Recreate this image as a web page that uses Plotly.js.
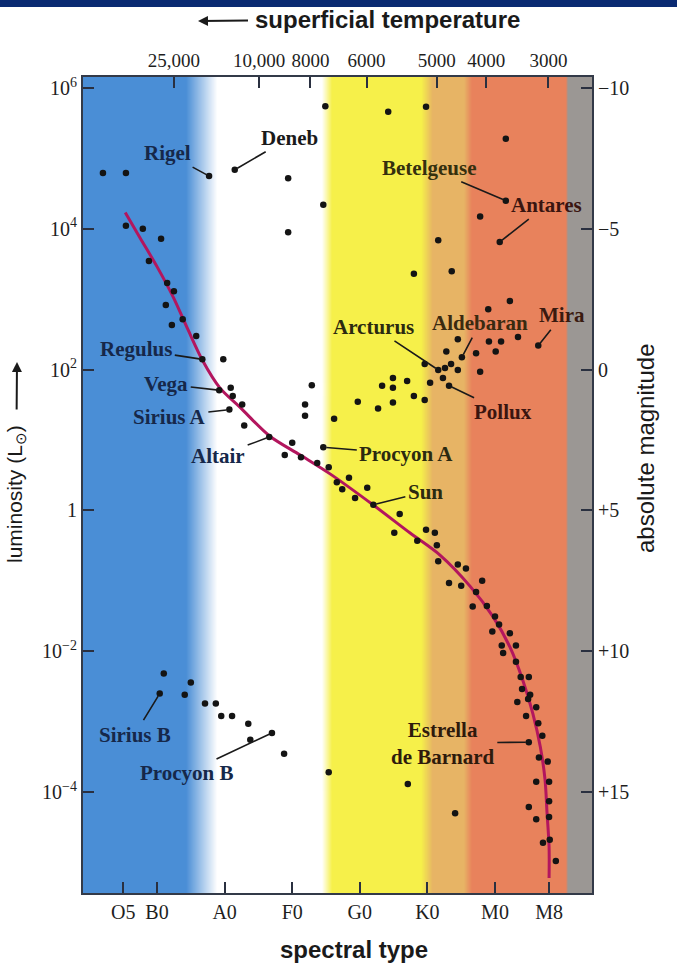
<!DOCTYPE html>
<html><head><meta charset="utf-8">
<script src="https://cdn.plot.ly/plotly-3.0.1.min.js"></script>
<style>html,body{margin:0;padding:0;background:#fff;}#chart{width:677px;height:969px;}</style>
</head><body><div id="chart"></div>
<script>
// ---------- DATA (spectral index: O0=0, B0=10, A0=20 ... M0=60; luminosity in solar units) ----------
const spectralTicks = [5, 10, 20, 30, 40, 50, 60, 68];
const spectralLabels = ["O5", "B0", "A0", "F0", "G0", "K0", "M0", "M8"];

const temperatures = [25000, 10000, 8000, 6000, 5000, 4000, 3000];
const temperaturePos = [12.5, 25.1, 32.7, 41.0, 51.4, 58.7, 67.9];

const lumTicks = [1e-4, 1e-2, 1, 1e2, 1e4, 1e6];
const lumLabels = ["10<sup>−4</sup>", "10<sup>−2</sup>", "1", "10<sup>2</sup>", "10<sup>4</sup>", "10<sup>6</sup>"];

const magTicks = [-10, -5, 0, 5, 10, 15];
const magLabels = ["−10", "−5", "0", "+5", "+10", "+15"];

// main-sequence curve
const msCurveX = [5.3, 7.5, 10.0, 12.4, 14.6, 16.7, 19.3, 22.3, 26.6, 31.2, 35.6, 42.0, 47.4, 51.9, 56.3, 59.7, 62.2, 64.1, 65.6, 66.7, 67.4, 67.7, 68.0, 68.0];
const msCurveL = [1.7e4, 7.4e3, 2.9e3, 1070, 365, 137, 55, 29, 11.5, 6.1, 3.3, 1.19, 0.48, 0.23, 0.084, 0.031, 0.0115, 0.0039, 0.0013, 4.4e-4, 1.5e-4, 5.0e-5, 1.66e-5, 6.0e-6];

// supergiants
const superX = [2.0, 5.4, 29.4, 34.6, 29.4, 34.9, 44.2, 49.8, 61.6, 57.8, 51.6, 48.0, 53.6];
const superL = [6.2e4, 6.2e4, 5.2e4, 2.2e4, 8.9e3, 5.5e5, 4.6e5, 5.4e5, 1.9e5, 1.5e4, 6.9e3, 2.3e3, 2.5e3];

// main-sequence stars
const mainX = [5.4, 7.9, 10.6, 8.8, 11.5, 12.5, 11.3, 13.8, 12.2, 15.8, 19.8, 20.9, 21.2, 22.6, 22.9, 30.0, 28.9, 31.3, 33.7, 35.4, 32.9, 31.9, 31.9, 36.2, 39.7, 38.4, 36.6, 37.4, 39.3, 41.1, 45.9, 45.1, 48.5, 49.8, 51.1, 51.4, 51.6, 54.5, 55.7, 58.1, 53.2, 55.0, 57.2, 56.7, 58.8, 60.0, 60.6, 59.6, 62.2, 61.0, 63.1, 61.2, 63.1, 63.8, 65.0, 64.0, 65.2, 64.9, 63.3, 66.1, 64.6, 66.4, 67.0, 66.5, 67.8, 66.1, 68.0, 68.0, 65.0, 66.1, 68.0, 67.1, 68.1, 69.0];
const mainL = [1.1e4, 1.0e4, 7.2e3, 3.5e3, 1.7e3, 1.3e3, 830, 520, 430, 300, 140, 55, 42, 32, 16, 9.1, 6.1, 5.7, 4.7, 4.1, 60, 32, 22, 20, 35, 2.9, 2.5, 2.0, 1.5, 2.1, 0.89, 0.48, 0.37, 0.53, 0.48, 0.32, 0.19, 0.17, 0.15, 0.10, 0.093, 0.085, 0.069, 0.043, 0.044, 0.031, 0.024, 0.019, 0.018, 0.012, 0.012, 0.0094, 0.0071, 0.0043, 0.0043, 0.0029, 0.0024, 0.0021, 0.0019, 0.0016, 0.0012, 0.00095, 0.00063, 0.00031, 0.00027, 0.00014, 0.00014, 7.4e-5, 6.1e-5, 4.1e-5, 4.4e-5, 1.9e-5, 2.1e-5, 1.05e-5];

// giants
const giantX = [59.0, 62.2, 54.5, 59.1, 60.9, 63.4, 60.1, 52.8, 57.2, 49.6, 52.6, 53.5, 54.5, 57.8, 44.9, 47.0, 50.4, 52.3, 48.0, 49.6, 43.3, 44.9, 42.7, 44.9];
const giantL = [720, 940, 270, 250, 250, 290, 180, 180, 170, 120, 105, 120, 99, 93, 76, 69, 65, 76, 42, 37, 59, 55, 28, 34];

// white dwarfs and faint stars
const dwarfX = [11.0, 15.0, 14.1, 17.1, 18.7, 19.5, 21.1, 23.5, 23.8, 28.8, 35.4, 47.1, 54.1];
const dwarfL = [0.0048, 0.0036, 0.0024, 0.0018, 0.0018, 0.0012, 0.0012, 0.00093, 0.00055, 0.00035, 0.00019, 0.00013, 5.0e-5];

// named stars
const namedStars = ["Rigel", "Deneb", "Regulus", "Vega", "Sirius A", "Altair", "Procyon A", "Sun", "Arcturus", "Aldebaran", "Mira", "Betelgeuse", "Antares", "Pollux", "Sirius B", "Procyon B", "Estrella<br>de Barnard"];
const namedX = [17.7, 21.5, 16.7, 19.2, 20.7, 26.6, 34.6, 42.0, 51.6, 55.1, 66.4, 61.6, 60.7, 53.2, 10.4, 27.0, 65.0];
const namedL = [5.6e4, 6.9e4, 140, 51, 27, 11, 7.9, 1.2, 99, 150, 220, 2.5e4, 6.5e3, 59, 0.0025, 6.9e-4, 5.1e-4];

// ---------- STYLE / LAYOUT ----------
const X_MIN = -0.95, X_MAX = 74.35;
const LOG_MIN = -5.435, LOG_MAX = 6.156;
const magOf = lg => 5 - 2.5 * lg;

const labelStyle = {
  "Rigel": [-42, -23, "#16284a"], "Deneb": [55, -32, "#1a1a1a"], "Regulus": [-66, -10, "#16284a"],
  "Vega": [-53, -6, "#16284a"], "Sirius A": [-60, 7, "#16284a"], "Altair": [-51, 19, "#16284a"],
  "Procyon A": [83, 7, "#2b2a10"], "Sun": [52, -13, "#2b2a10"], "Arcturus": [-65, -43, "#2b2a10"],
  "Aldebaran": [18, -34, "#3a2a10"], "Mira": [24, -30, "#3a1a10"], "Betelgeuse": [-77, -33, "#35300e"],
  "Antares": [47, -37, "#3a1510"], "Pollux": [54, 26, "#3a1510"], "Sirius B": [-25, 41, "#16284a"],
  "Procyon B": [-85, 40, "#16284a"], "Estrella<br>de Barnard": [-86, 1, "#2e1a0c"]
};

// background colour bands (x in spectral index units)
const bandStops = [
  [-0.95, "#4a8ed6"], [14.3, "#4a8ed6"], [18.9, "#ffffff"], [34.4, "#ffffff"], [35.9, "#f6f04a"],
  [49.1, "#f6f04a"], [50.8, "#e7b465"], [55.4, "#e7b465"], [56.6, "#e8825c"], [70.5, "#e8825c"],
  [70.8, "#9b9794"], [74.35, "#9b9794"]
];
const cv = document.createElement("canvas");
cv.width = 1000; cv.height = 4;
const ctx = cv.getContext("2d");
const grad = ctx.createLinearGradient(0, 0, 1000, 0);
bandStops.forEach(s => grad.addColorStop((s[0] - X_MIN) / (X_MAX - X_MIN), s[1]));
ctx.fillStyle = grad; ctx.fillRect(0, 0, 1000, 4);
const bgURL = cv.toDataURL("image/png");

const SERIF = "Liberation Serif, DejaVu Serif, serif";
const SANS = "Liberation Sans, Arial, sans-serif";
const dotMarker = {size: 6.5, color: "#141414"};

const traces = [
  {x: msCurveX, y: msCurveL, mode: "lines", line: {color: "#b3165e", width: 3, shape: "spline", smoothing: 0.9}, hoverinfo: "skip"},
  {x: superX.concat(mainX, giantX, dwarfX), y: superL.concat(mainL, giantL, dwarfL), mode: "markers", marker: dotMarker},
  {x: namedX, y: namedL, text: namedStars, mode: "markers", marker: dotMarker},
  {x: [X_MIN], y: [magOf(LOG_MIN)], xaxis: "x2", yaxis: "y2", mode: "markers", marker: {size: 1, opacity: 0}}
];

const annotations = namedStars.map((n, i) => ({
  x: namedX[i], y: Math.log10(namedL[i]), xref: "x", yref: "y",
  text: n, showarrow: true, arrowhead: 0, arrowwidth: 1.6, arrowcolor: "#1a1a1a",
  ax: labelStyle[n][0], ay: labelStyle[n][1], standoff: 3, startstandoff: 1,
  font: {family: SERIF, size: 21, color: labelStyle[n][2], weight: "bold"}, align: "center"
}));

const px2x = p => (p - 83) / 509;
const py2y = p => (893 - p) / 816;
annotations.push(
  // top title with its leftward arrow (arrow head at x=198px)
  {xref: "paper", yref: "paper", x: px2x(198), y: py2y(21), ax: 189, ay: -2, text: "superficial temperature",
   showarrow: true, arrowhead: 2, arrowsize: 1, arrowwidth: 2, arrowcolor: "#1a1a1a", startstandoff: 5,
   font: {family: SANS, size: 24, color: "#1a1a1a", weight: "bold"}},
  {xref: "paper", yref: "paper", x: px2x(354), y: py2y(949), xanchor: "center", yanchor: "middle", text: "spectral type", showarrow: false,
   font: {family: SANS, size: 24, color: "#1a1a1a", weight: "bold"}},
  // left title with its upward arrow (arrow head at y=362px)
  {xref: "paper", yref: "paper", x: px2x(17), y: py2y(362), ax: -1, ay: 132, text: "luminosity (L<sub>⊙</sub>)", textangle: -90,
   showarrow: true, arrowhead: 2, arrowsize: 1, arrowwidth: 2, arrowcolor: "#1a1a1a", startstandoff: 14,
   font: {family: SANS, size: 21, color: "#1a1a1a"}},
  {xref: "paper", yref: "paper", x: px2x(645), y: py2y(449), xanchor: "center", yanchor: "middle", text: "absolute magnitude", textangle: -90, showarrow: false,
   font: {family: SANS, size: 24, color: "#1a1a1a"}}
);

const axisCommon = {showgrid: false, zeroline: false, showline: true, linecolor: "#333a48", linewidth: 2,
  ticks: "inside", ticklen: 11, tickwidth: 2, tickcolor: "#2a3040", tickangle: 0,
  tickfont: {family: SERIF, size: 20, color: "#1e1e1e"}, tickmode: "array", fixedrange: true};

const layout = {
  width: 677, height: 969,
  margin: {l: 83, r: 85, t: 77, b: 76},
  paper_bgcolor: "#ffffff", plot_bgcolor: "rgba(0,0,0,0)",
  showlegend: false,
  xaxis: Object.assign({}, axisCommon, {range: [X_MIN, X_MAX], tickvals: spectralTicks, ticktext: spectralLabels}),
  xaxis2: Object.assign({}, axisCommon, {range: [X_MIN, X_MAX], overlaying: "x", side: "top", tickvals: temperaturePos,
    tickfont: {family: SERIF, size: 19, color: "#1e1e1e"},
    ticktext: temperatures.map(t => t >= 10000 ? t.toLocaleString("en-US") : String(t))}),
  yaxis: Object.assign({}, axisCommon, {type: "log", range: [LOG_MIN, LOG_MAX], tickvals: lumTicks, ticktext: lumLabels}),
  yaxis2: Object.assign({}, axisCommon, {range: [magOf(LOG_MIN), magOf(LOG_MAX)], overlaying: "y", side: "right",
    tickvals: magTicks, ticktext: magLabels}),
  images: [{source: bgURL, xref: "x", yref: "paper", x: X_MIN, y: 1, sizex: X_MAX - X_MIN, sizey: 1,
    sizing: "stretch", xanchor: "left", yanchor: "top", layer: "below"}],
  shapes: [{type: "rect", xref: "paper", yref: "paper", x0: -0.2, x1: 1.2, y0: py2y(7), y1: py2y(-2),
    fillcolor: "#0a2a72", line: {width: 0}}],
  annotations: annotations
};

Plotly.newPlot("chart", traces, layout, {displayModeBar: false, staticPlot: true});
</script></body></html>
